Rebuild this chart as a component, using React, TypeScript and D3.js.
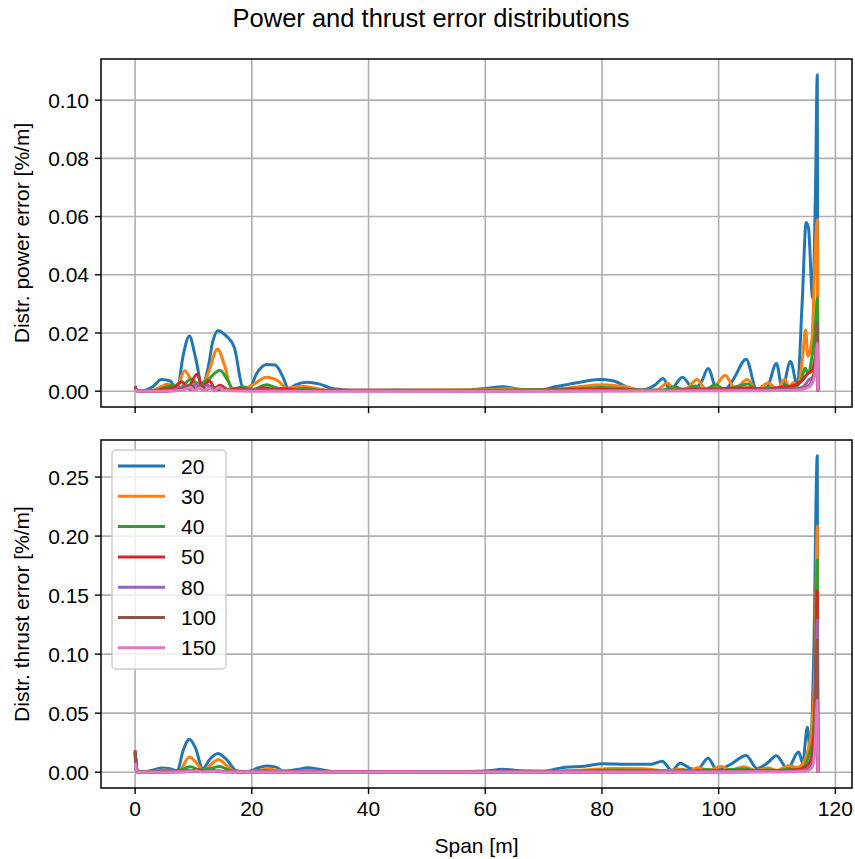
import * as d3 from 'd3';

type Pt = [number, number];

const SERIES_LABELS = ['20', '30', '40', '50', '80', '100', '150'];
const COLORS = ['#1f77b4', '#ff7f0e', '#2ca02c', '#d62728', '#9467bd', '#8c564b', '#e377c2'];
const X_TICKS = [0, 20, 40, 60, 80, 100, 120];
const POWER_TICKS = [0, 0.02, 0.04, 0.06, 0.08, 0.1];
const THRUST_TICKS = [0, 0.05, 0.1, 0.15, 0.2, 0.25];

// distributed power error, [span m, %/m]
const power20: Pt[] = [
  [0, 0.0012], [0.3, 0.0003], [1, 0], [3, 0.0015], [4.5, 0.004], [6, 0.0035], [7.2, 0.0002],
  [8.2, 0.012], [9.3, 0.019], [10.3, 0.012], [11.5, 0.002], [12.5, 0.008], [13.3, 0.017],
  [14.2, 0.0208], [15.6, 0.019], [17, 0.015], [18.5, 0.001], [19.5, 0.0005], [20.8, 0.006],
  [22.5, 0.0092], [24, 0.009], [25.3, 0.005], [26.3, 0.0008], [27.5, 0.0022], [29.5, 0.0031],
  [31.5, 0.0025], [34, 0.0008], [37, 0.0003], [45, 0.0004], [55, 0.0003], [60, 0.0009],
  [63, 0.0015], [66, 0.0006], [69, 0.0002], [72, 0.0015], [76, 0.003], [79.5, 0.004],
  [82, 0.0035], [85, 0.0008], [87, 0.0004], [89, 0.002], [90.5, 0.0044], [91.7, 0.0005],
  [93.8, 0.0048], [95.7, 0.0008], [97, 0.003], [98.2, 0.0078], [99.7, 0.0005], [101, 0.0005],
  [102.5, 0.004], [104.7, 0.011], [106.5, 0.0008], [108.2, 0.001], [109.9, 0.0095],
  [110.9, 0.001], [112.3, 0.0102], [113.5, 0.002], [114.3, 0.03], [115.0, 0.058],
  [115.4, 0.056], [116.1, 0.032], [116.6, 0.07], [116.9, 0.1087], [117, 0],
];
const power30: Pt[] = [
  [0, 0.0008], [0.5, 0], [2, 0], [4, 0.001], [5.5, 0.0025], [7, 0.001], [8.5, 0.007],
  [9.6, 0.004], [11, 0.001], [12.5, 0.006], [14.1, 0.0145], [15.3, 0.009], [16.5, 0.001],
  [18, 0.0005], [20, 0.002], [22.5, 0.0048], [24.5, 0.0035], [26, 0.001], [28.5, 0.0017],
  [30.5, 0.0012], [33, 0.0003], [45, 0.0003], [60, 0.0005], [64, 0.0008], [70, 0.0003],
  [76, 0.0015], [80, 0.0022], [84, 0.0015], [87, 0.0003], [89.5, 0.0005], [91.2, 0.0028],
  [92.5, 0.0005], [94.5, 0.001], [96.3, 0.004], [97.8, 0.0008], [99.5, 0.002], [101.1, 0.0055],
  [102.8, 0.001], [104.9, 0.004], [106.5, 0.0005], [108.5, 0.0028], [110, 0.0008],
  [111.3, 0.004], [112.1, 0.0015], [112.8, 0.003], [113.6, 0.002], [114.4, 0.012],
  [114.9, 0.021], [115.3, 0.012], [116.0, 0.018], [116.5, 0.045], [116.9, 0.059], [117, 0],
];
const power40: Pt[] = [
  [0, 0.001], [0.5, 0], [3, 0], [5, 0.0012], [6.5, 0.002], [7.5, 0.0008], [9.5, 0.004],
  [11, 0.0025], [12.5, 0.004], [14.5, 0.0072], [15.8, 0.004], [16.8, 0.0008], [18.5, 0.0015],
  [20, 0.0005], [22.5, 0.0022], [24.5, 0.001], [27, 0.0006], [29, 0.0009], [32, 0.0002],
  [60, 0.0003], [75, 0.0008], [80, 0.0013], [85, 0.0006], [90, 0.0003], [92.5, 0.0015],
  [94, 0.0004], [96, 0.0018], [97.5, 0.0004], [99.5, 0.0022], [101, 0.0005], [103, 0.0015],
  [105, 0.0025], [106.5, 0.0005], [108.5, 0.0013], [110, 0.0004], [111.5, 0.002],
  [112.5, 0.0008], [113.5, 0.002], [114.2, 0.004], [114.8, 0.008], [115.3, 0.006],
  [116, 0.012], [116.5, 0.02], [116.9, 0.032], [117, 0],
];
const power50: Pt[] = [
  [0, 0.0015], [0.4, 0], [3, 0], [5, 0.0007], [6.5, 0.0012], [8, 0.0032], [9, 0.0012],
  [10.6, 0.0058], [11.5, 0.0015], [12.8, 0.0035], [13.6, 0.001], [14.5, 0.002], [16, 0.0005],
  [18, 0.0009], [20, 0.0003], [22, 0.0012], [24, 0.0005], [26, 0.0008], [28, 0.0003],
  [60, 0.0002], [80, 0.0006], [90, 0.0002], [95, 0.0006], [100, 0.0008], [105, 0.0012],
  [108, 0.0006], [110, 0.0012], [112, 0.0015], [113.5, 0.0025], [114.5, 0.004],
  [115.2, 0.006], [116, 0.007], [116.5, 0.011], [116.9, 0.016], [117, 0],
];
const power80: Pt[] = [
  [0, 0.001], [0.4, 0], [5, 0], [7, 0.0006], [8.5, 0.0015], [9.5, 0.0005], [10.5, 0.0025],
  [11.4, 0.0008], [12.4, 0.002], [13.5, 0.0006], [14.5, 0.0012], [16, 0.0002], [20, 0.0004],
  [25, 0.0002], [60, 0.0001], [100, 0.0003], [110, 0.0005], [113, 0.0008], [114.5, 0.0015],
  [115.5, 0.004], [116.3, 0.005], [116.9, 0.008], [117, 0],
];
const power100: Pt[] = [
  [0, 0.0018], [0.4, 0], [5, 0], [8, 0.0008], [9.5, 0.0022], [10.3, 0.0006], [11.3, 0.002],
  [12.2, 0.0005], [13.2, 0.0018], [14, 0.0004], [15, 0.0008], [17, 0.0002], [25, 0.0002],
  [60, 0.0001], [100, 0.0002], [112, 0.0004], [114, 0.0008], [115.5, 0.002], [116.3, 0.006],
  [116.7, 0.015], [116.9, 0.0235], [117, 0],
];
const power150: Pt[] = [
  [0, 0.0006], [0.4, 0], [5, 0], [8, 0.0003], [9.5, 0.0013], [10.2, 0.0002], [11, 0.0012],
  [11.8, 0.0002], [12.8, 0.0012], [13.5, 0.0001], [14.5, 0.0013], [15.3, 0.0002], [20, 0],
  [60, 0], [110, 0.0002], [114, 0.0005], [115.5, 0.0015], [116.3, 0.004], [116.7, 0.01],
  [116.9, 0.0165], [117, 0],
];

// distributed thrust error, [span m, %/m]
const thrust20: Pt[] = [
  [0, 0.014], [0.15, 0.002], [0.4, 0], [2.5, 0.001], [4.5, 0.0035], [6, 0.003], [7.2, 0.0008],
  [8.2, 0.018], [9.3, 0.028], [10.3, 0.021], [11.6, 0.003], [12.8, 0.011], [14.2, 0.0158],
  [15.6, 0.011], [17.5, 0.001], [19.5, 0.0005], [21, 0.0035], [22.5, 0.0052], [24, 0.0045],
  [25.5, 0.001], [27.5, 0.002], [29.6, 0.0038], [31.5, 0.0025], [34, 0.0005], [40, 0.0003],
  [50, 0.0005], [55, 0.0006], [60, 0.001], [63, 0.0025], [66, 0.0012], [70, 0.0008],
  [73.4, 0.004], [77, 0.005], [80.2, 0.0072], [84, 0.0068], [88.5, 0.0068], [90.3, 0.0093],
  [92, 0.0015], [93.4, 0.0075], [95, 0.0035], [96.3, 0.002], [98.2, 0.0118], [99.7, 0.002],
  [102, 0.0065], [104.7, 0.0142], [106.6, 0.003], [108.4, 0.008], [109.9, 0.014],
  [111.8, 0.003], [113.7, 0.017], [114.4, 0.008], [115.2, 0.038], [115.7, 0.017],
  [116.3, 0.1], [116.9, 0.268], [117, 0],
];
const thrust30: Pt[] = [
  [0, 0.016], [0.4, 0], [3, 0.0005], [5, 0.0018], [6.5, 0.0015], [7.5, 0.001], [9.3, 0.0128],
  [10.5, 0.008], [11.7, 0.001], [13, 0.0065], [14.3, 0.0108], [15.6, 0.006], [17, 0.001],
  [19, 0.0003], [21, 0.0015], [22.8, 0.0025], [25, 0.0012], [27, 0.0006], [29.5, 0.0015],
  [32, 0.0006], [40, 0.0002], [55, 0.0003], [65, 0.0006], [72, 0.0008], [77, 0.0018],
  [82, 0.0032], [87, 0.003], [91, 0.0012], [93.5, 0.0025], [95, 0.0012], [96.5, 0.004],
  [98, 0.0015], [100.5, 0.0048], [102, 0.0018], [104.3, 0.0045], [106.5, 0.0015],
  [108.5, 0.0035], [110, 0.0015], [112, 0.0055], [113.5, 0.004], [114.5, 0.008],
  [115.3, 0.018], [116, 0.04], [116.5, 0.09], [116.9, 0.2085], [117, 0],
];
const thrust40: Pt[] = [
  [0, 0.017], [0.4, 0], [3, 0.0003], [5, 0.001], [7, 0.0008], [9.5, 0.0045], [11, 0.002],
  [12.5, 0.0025], [14.5, 0.0048], [16, 0.002], [17.5, 0.0005], [22, 0.0012], [25, 0.0005],
  [30, 0.0008], [35, 0.0002], [60, 0.0003], [75, 0.0008], [82, 0.0018], [88, 0.0015],
  [92, 0.0008], [94, 0.0018], [96, 0.0008], [98, 0.0022], [100, 0.0008], [102, 0.0022],
  [104.5, 0.0028], [106.5, 0.001], [108.5, 0.002], [110, 0.001], [112, 0.0028],
  [113.5, 0.002], [114.8, 0.006], [115.5, 0.015], [116.2, 0.03], [116.6, 0.08],
  [116.9, 0.18], [117, 0],
];
const thrust50: Pt[] = [
  [0, 0.0186], [0.4, 0], [5, 0.0004], [8, 0.0015], [9.5, 0.0012], [10.8, 0.002], [12, 0.0008],
  [13.5, 0.0015], [15, 0.0006], [20, 0.0004], [30, 0.0003], [60, 0.0002], [80, 0.0008],
  [90, 0.0006], [100, 0.001], [105, 0.0012], [110, 0.0012], [112.5, 0.0018], [114, 0.0025],
  [115.3, 0.006], [116, 0.015], [116.5, 0.05], [116.9, 0.154], [117, 0],
];
const thrust80: Pt[] = [
  [0, 0.016], [0.4, 0], [5, 0.0002], [8, 0.0008], [9.5, 0.0012], [11, 0.0006], [12.5, 0.001],
  [14.5, 0.0008], [17, 0.0002], [60, 0.0001], [100, 0.0004], [112, 0.0008], [114.5, 0.0015],
  [115.6, 0.004], [116.3, 0.012], [116.6, 0.04], [116.9, 0.129], [117, 0],
];
const thrust100: Pt[] = [
  [0, 0.0175], [0.4, 0], [5, 0.0001], [9, 0.0006], [10.5, 0.0012], [12, 0.0004],
  [13.5, 0.0008], [15, 0.0003], [20, 0.0001], [100, 0.0002], [113, 0.0006], [115, 0.0015],
  [116, 0.006], [116.5, 0.03], [116.9, 0.112], [117, 0],
];
const thrust150: Pt[] = [
  [0, 0.008], [0.4, 0], [5, 0], [9, 0.0004], [10.5, 0.0012], [11.5, 0.0002], [14.3, 0.0009],
  [15, 0.0001], [100, 0.0001], [113, 0.0004], [115, 0.001], [116, 0.004], [116.5, 0.02],
  [116.9, 0.061], [117, 0],
];

const POWER = [power20, power30, power40, power50, power80, power100, power150];
const THRUST = [thrust20, thrust30, thrust40, thrust50, thrust80, thrust100, thrust150];

const W = 855;
const H = 859;
const LEFT = 101;
const RIGHT = 852;
const FONT = '"Liberation Sans", Arial, Helvetica, sans-serif';
const FS = 21;
const TICK = 6;

// matplotlib-style 5% margins
function padded(lo: number, hi: number): [number, number] {
  const r = hi - lo;
  return [lo - 0.05 * r, hi + 0.05 * r];
}

const allX = [...POWER, ...THRUST].flat().map((d) => d[0]);
const x = d3.scaleLinear()
  .domain(padded(d3.min(allX) as number, d3.max(allX) as number))
  .range([LEFT, RIGHT]);

type PanelProps = {
  top: number;
  bottom: number;
  series: Pt[][];
  ticks: number[];
  yLabel: string;
  xLabels: boolean;
  legend: boolean;
};

function Panel({ top, bottom, series, ticks, yLabel, xLabels, legend }: PanelProps) {
  const ys = series.flat().map((d) => d[1]);
  const y = d3.scaleLinear()
    .domain(padded(d3.min(ys) as number, d3.max(ys) as number))
    .range([bottom, top]);
  const line = d3.line<Pt>()
    .x((d) => x(d[0]))
    .y((d) => y(d[1]))
    .curve(d3.curveMonotoneX);
  const fmt = d3.format('.2f');

  return (
    <g>
      {X_TICKS.map((t) => (
        <line key={`gx${t}`} x1={x(t)} x2={x(t)} y1={top} y2={bottom} stroke="#b0b0b0" strokeWidth={1.6} />
      ))}
      {ticks.map((t) => (
        <line key={`gy${t}`} x1={LEFT} x2={RIGHT} y1={y(t)} y2={y(t)} stroke="#b0b0b0" strokeWidth={1.6} />
      ))}
      {series.map((s, i) => (
        <path
          key={i}
          d={line(s) ?? ''}
          fill="none"
          stroke={COLORS[i]}
          strokeWidth={3}
          strokeLinejoin="round"
        />
      ))}
      <rect x={LEFT} y={top} width={RIGHT - LEFT} height={bottom - top} fill="none" stroke="#000" strokeWidth={1.5} />
      {X_TICKS.map((t) => (
        <g key={`tx${t}`}>
          <line x1={x(t)} x2={x(t)} y1={bottom} y2={bottom + TICK} stroke="#000" strokeWidth={1.4} />
          {xLabels && (
            <text x={x(t)} y={bottom + TICK + 6} dy="0.76em" textAnchor="middle" fontSize={FS} fontFamily={FONT}>
              {t}
            </text>
          )}
        </g>
      ))}
      {ticks.map((t) => (
        <g key={`ty${t}`}>
          <line x1={LEFT - TICK} x2={LEFT} y1={y(t)} y2={y(t)} stroke="#000" strokeWidth={1.4} />
          <text x={LEFT - TICK - 6} y={y(t)} dy="0.36em" textAnchor="end" fontSize={FS} fontFamily={FONT}>
            {fmt(t)}
          </text>
        </g>
      ))}
      <text
        transform={`translate(21, ${(top + bottom) / 2}) rotate(-90)`}
        textAnchor="middle"
        dy="0.36em"
        fontSize={FS}
        fontFamily={FONT}
      >
        {yLabel}
      </text>
      {legend && (
        <g>
          <rect x={112} y={450} width={114} height={219} rx={4} fill="#fff" fillOpacity={0.8} stroke="#cccccc" strokeWidth={1.4} />
          {SERIES_LABELS.map((lab, i) => (
            <g key={lab} transform={`translate(0, ${466 + i * 30.3})`}>
              <line x1={118} x2={165} y1={0} y2={0} stroke={COLORS[i]} strokeWidth={3} />
              <text x={181} y={0} dy="0.36em" fontSize={FS} fontFamily={FONT}>{lab}</text>
            </g>
          ))}
        </g>
      )}
    </g>
  );
}

export default function App() {
  return (
    <svg width={W} height={H} style={{ position: 'absolute', left: 0, top: 0, background: '#fff' }}>
      <rect width={W} height={H} fill="#fff" />
      <text x={431} y={18} dy="0.36em" textAnchor="middle" fontSize={25.5} fontFamily={FONT}>
        Power and thrust error distributions
      </text>
      <Panel top={59} bottom={407} series={POWER} ticks={POWER_TICKS} yLabel="Distr. power error [%/m]" xLabels={false} legend={false} />
      <Panel top={440} bottom={788} series={THRUST} ticks={THRUST_TICKS} yLabel="Distr. thrust error [%/m]" xLabels legend />
      <text x={(LEFT + RIGHT) / 2} y={845} dy="0.36em" textAnchor="middle" fontSize={FS} fontFamily={FONT}>
        Span [m]
      </text>
    </svg>
  );
}
